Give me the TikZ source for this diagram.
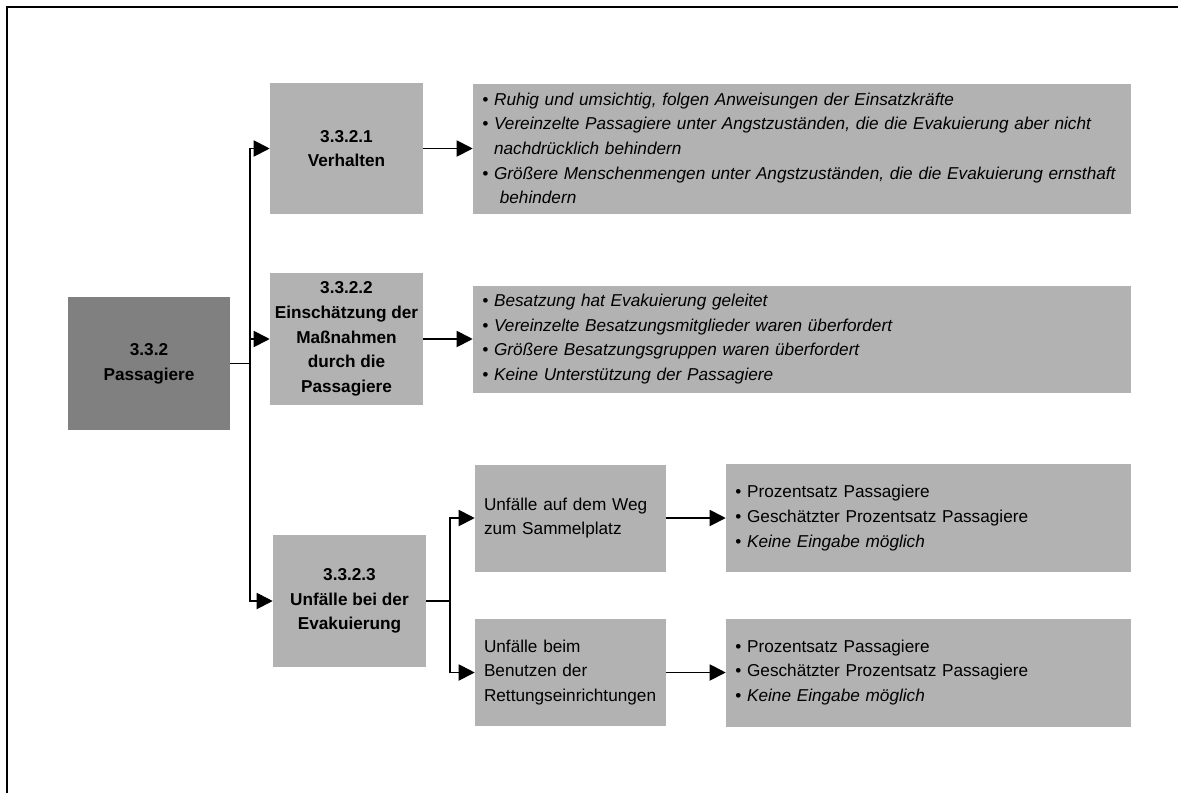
\documentclass[tikz,border=0pt]{standalone}
\usepackage{fontspec}
\setmainfont{Liberation Sans}
\usepackage{xcolor}
\usepackage{tikz}
\usetikzlibrary{arrows.meta,positioning}

\definecolor{boxgray}{RGB}{178,178,178}
\definecolor{headgray}{RGB}{128,128,128}
\newcommand{\boxfont}{\fontsize{12.9pt}{18.5pt}\selectfont}

\begin{document}
\begin{tikzpicture}[
  x=0.75pt, y=-0.75pt,
  headbox/.style={rectangle, fill=headgray, minimum width=121.5pt, minimum height=99.75pt, align=center, font=\boxfont\bfseries},
  topic/.style={rectangle, fill=boxgray, minimum width=114.75pt, minimum height=99pt, align=center, font=\boxfont\bfseries},
  subtopic/.style={rectangle, fill=boxgray, minimum height=80.25pt, inner xsep=6.75pt, text width=129.75pt, align=left, font=\boxfont},
  itemlist/.style={rectangle, fill=boxgray, inner xsep=7pt, align=left, font=\boxfont},
  arrow/.style={-{Triangle[length=12pt,width=12pt]}, line width=1.4pt},
  line/.style={line width=1.4pt}
]
\useasboundingbox (0,0) rectangle (1178,793);
% page frame, top and left only
\draw[line width=1.6pt] (7,793) -- (7,7) -- (1178,7);

\node[headbox] (pass) at (149,363.5) {3.3.2\\Passagiere};
\node[topic, minimum height=98.25pt] (verh) at (346.5,148.5) {3.3.2.1\\Verhalten};
\node[topic] (einsch) at (346.5,339) {3.3.2.2\\Einschätzung der\\Maßnahmen\\durch die\\Passagiere};
\node[topic] (unf) at (349.5,601) {3.3.2.3\\Unfälle bei der\\Evakuierung};

\node[itemlist, text width=479.5pt, minimum height=97.5pt, font=\boxfont\itshape] (verhlist) at (802,148.5)
  {• Ruhig und umsichtig, folgen Anweisungen der Einsatzkräfte\\
   • Vereinzelte Passagiere unter Angstzuständen, die die Evakuierung aber nicht\\
   \phantom{•} nachdrücklich behindern\\
   • Größere Menschenmengen unter Angstzuständen, die die Evakuierung ernsthaft\\
   \phantom{•}\ \ behindern};
\node[itemlist, text width=479.5pt, minimum height=80.25pt, font=\boxfont\itshape] (einschlist) at (802,339)
  {• Besatzung hat Evakuierung geleitet\\
   • Vereinzelte Besatzungsmitglieder waren überfordert\\
   • Größere Besatzungsgruppen waren überfordert\\
   • Keine Unterstützung der Passagiere};

\node[subtopic] (weg) at (570.5,518) {Unfälle auf dem Weg\\zum Sammelplatz};
\node[subtopic] (beim) at (570.5,672.5) {Unfälle beim\\Benutzen der\\Rettungseinrichtungen};

\node[itemlist, text width=289.75pt, minimum height=81pt] (weglist) at (928.5,518)
  {• Prozentsatz Passagiere\\
   • Geschätzter Prozentsatz Passagiere\\
   • \textit{Keine Eingabe möglich}};
\node[itemlist, text width=289.75pt, minimum height=81pt] (beimlist) at (928.5,672.5)
  {• Prozentsatz Passagiere\\
   • Geschätzter Prozentsatz Passagiere\\
   • \textit{Keine Eingabe möglich}};

% branching points
\coordinate (trunk) at (250,363.5);
\coordinate (split) at (450,601);

\draw[line] (pass) -- (trunk);
\draw[arrow] (trunk) |- (verh);
\draw[arrow] (trunk) |- (einsch);
\draw[arrow] (trunk) |- (unf);
\draw[arrow] (verh) -- (verhlist);
\draw[arrow] (einsch) -- (einschlist);

\draw[line] (unf) -- (split);
\draw[arrow] (split) |- (weg);
\draw[arrow] (split) |- (beim);
\draw[arrow] (weg) -- (weglist);
\draw[arrow] (beim) -- (beimlist);
\end{tikzpicture}
\end{document}
